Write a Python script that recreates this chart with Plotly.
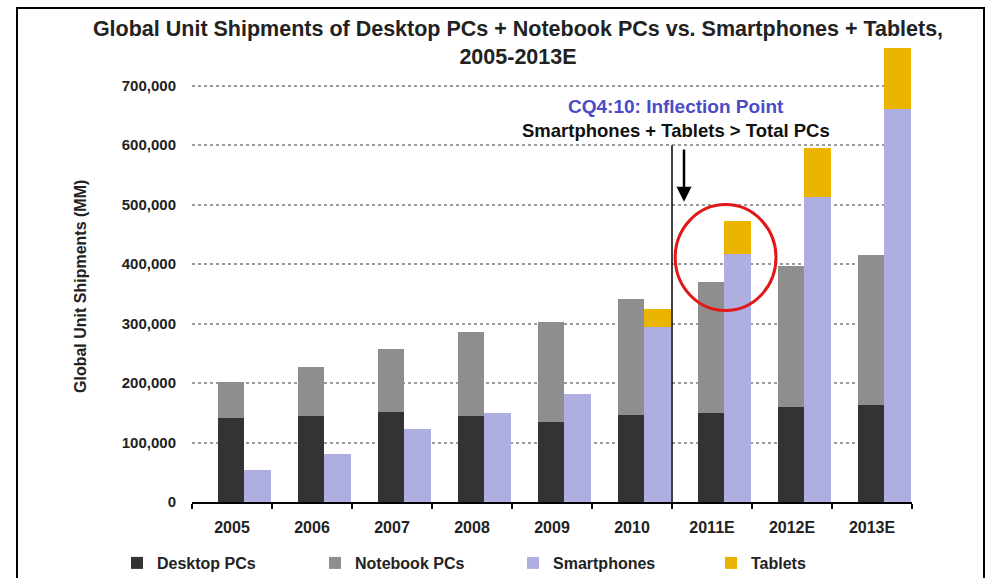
import plotly.graph_objects as go

years = ["2005", "2006", "2007", "2008", "2009", "2010", "2011E", "2012E", "2013E"]
desktop = [141000, 145000, 152000, 145000, 135000, 147000, 150000, 159000, 163000]
notebook = [61000, 82000, 106000, 140000, 167000, 195000, 220000, 237000, 252000]
smartphones = [53000, 80000, 123000, 149000, 181000, 294000, 417000, 513000, 661000]
tablets = [0, 0, 0, 0, 0, 30000, 55000, 83000, 102000]
y_ticks = [0, 100000, 200000, 300000, 400000, 500000, 600000, 700000]

FONT = "Liberation Sans, Arial, sans-serif"
W = 0.33
PC_OFF = -0.175
MOB_OFF = 0.155

fig = go.Figure()
fig.add_trace(go.Bar(name="Desktop PCs", x=years, y=desktop, base=[0] * len(years),
                     width=W, offset=PC_OFF, marker=dict(color="#333333", line=dict(width=0))))
fig.add_trace(go.Bar(name="Notebook PCs", x=years, y=notebook, base=desktop,
                     width=W, offset=PC_OFF, marker=dict(color="#8e8e8e", line=dict(width=0))))
fig.add_trace(go.Bar(name="Smartphones", x=years, y=smartphones, base=[0] * len(years),
                     width=W, offset=MOB_OFF, marker=dict(color="#aeaee0", line=dict(width=0))))
fig.add_trace(go.Bar(name="Tablets", x=years, y=tablets, base=smartphones,
                     width=W, offset=MOB_OFF, marker=dict(color="#ebb400", line=dict(width=0))))

L, R, T, B = 192, 76, 47, 76
PW, PH = 988 - L - R, 578 - T - B

def px_x(p):
    return (p - L) / PW

def px_y(p):
    return (578 - B - p) / PH

fig.update_layout(
    width=988, height=578,
    margin=dict(l=L, r=R, t=T, b=B, autoexpand=False),
    paper_bgcolor="white", plot_bgcolor="white",
    barmode="overlay",
    bargap=0,
    font=dict(family=FONT, color="#222222"),
    title=dict(
        text="<b>Global Unit Shipments of Desktop PCs + Notebook PCs vs. Smartphones + Tablets,<br>2005-2013E</b>",
        x=518 / 988, xanchor="center", xref="container",
        y=1 - 36 / 578, yanchor="middle", yref="container",
        font=dict(size=21.5, family=FONT, color="#222222"),
    ),
    xaxis=dict(
        type="category",
        showgrid=False,
        showline=True, linecolor="black", linewidth=1.5,
        ticks="outside", tickson="boundaries", ticklen=5, tickcolor="black", tickwidth=1.5,
        tickfont=dict(size=16, family=FONT, color="#222222", weight="bold"),
        ticklabelstandoff=10,
        range=[-0.5, 8.5],
        zeroline=False,
    ),
    yaxis=dict(
        range=[0, 765000],
        tickvals=y_ticks,
        tickformat=",",
        showgrid=True, gridcolor="#9a9a9a", gridwidth=1.5, griddash="dot",
        showline=False, zeroline=False,
        ticks="outside", ticklen=12, tickcolor="rgba(0,0,0,0)",
        tickfont=dict(size=15, family=FONT, color="#222222", weight="bold"),
    ),
    legend=dict(
        orientation="h",
        x=px_x(117), xanchor="left",
        y=px_y(563), yanchor="middle",
        font=dict(size=16, family=FONT, color="#222222", weight="bold"),
        entrywidth=153,
        itemwidth=30,
        traceorder="normal",
        bgcolor="rgba(0,0,0,0)",
    ),
    showlegend=True,
)

# y-axis title as rotated annotation
fig.add_annotation(
    text="<b>Global Unit Shipments (MM)</b>", textangle=-90,
    xref="paper", yref="paper", x=px_x(80), y=px_y(287),
    xanchor="center", yanchor="middle",
    showarrow=False, font=dict(size=16, family=FONT, color="#222222"),
)

# Inflection point annotations
fig.add_annotation(
    text="<b>CQ4:10: Inflection Point</b>", xref="paper", yref="paper", x=px_x(676), y=px_y(106),
    xanchor="center", yanchor="middle",
    showarrow=False, font=dict(size=19, family=FONT, color="#4b4bc8"),
)
fig.add_annotation(
    text="<b>Smartphones + Tablets > Total PCs</b>", xref="paper", yref="paper", x=px_x(676), y=px_y(130),
    xanchor="center", yanchor="middle",
    showarrow=False, font=dict(size=18.5, family=FONT, color="#111111"),
)
# Arrow
fig.add_annotation(
    x=5.65, y=505000, ax=5.65, ay=595000, xref="x", yref="y", axref="x", ayref="y",
    text="", showarrow=True, arrowhead=2, arrowsize=1.2, arrowwidth=2.5, arrowcolor="black",
)
# Vertical divider line between 2010 and 2011E
fig.add_shape(type="line", xref="x", yref="y", x0=5.5, x1=5.5, y0=0, y1=600000,
              line=dict(color="black", width=1.5))
# Red circle
fig.add_shape(type="circle", xref="x", yref="y", x0=5.54, x1=6.8, y0=322000, y1=500000,
              line=dict(color="#e01818", width=3))
# Outer frame
fig.add_shape(type="rect", xref="paper", yref="paper",
              x0=px_x(17), x1=px_x(984), y0=px_y(600), y1=px_y(8),
              line=dict(color="black", width=2), layer="above")

fig.write_html(
    "out.html",
    config={"displayModeBar": False},
    post_script="document.body.style.margin='0';document.body.style.overflow='hidden';",
)
